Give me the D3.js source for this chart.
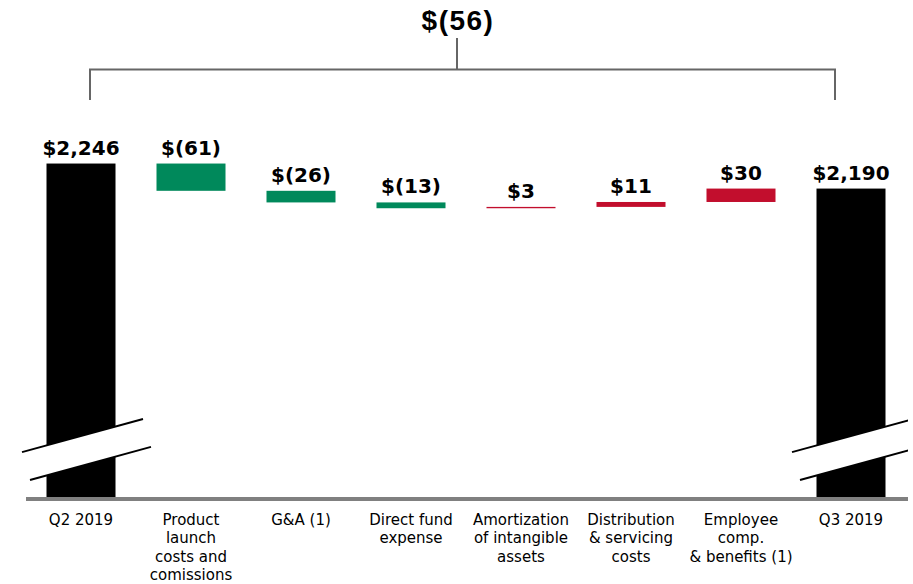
<!DOCTYPE html>
<html>
<head>
<meta charset="utf-8">
<script src="https://cdn.jsdelivr.net/npm/d3@7"></script>
<style>
  html, body { margin: 0; padding: 0; background: #fff; }
  svg { display: block; }
</style>
</head>
<body>
<div id="chart"></div>
<script>
// data
const categoryLines = [
  ["Q2 2019"],
  ["Product", "launch", "costs and", "comissions"],
  ["G&A (1)"],
  ["Direct fund", "expense"],
  ["Amortization", "of intangible", "assets"],
  ["Distribution", "& servicing", "costs"],
  ["Employee", "comp.", "& benefits (1)"],
  ["Q3 2019"]
];
const values = [2246, -61, -26, -13, 3, 11, 30, 2190];
const barTypes = ["total", "delta", "delta", "delta", "delta", "delta", "delta", "total"];
const valueLabels = ["$2,246", "$(61)", "$(26)", "$(13)", "$3", "$11", "$30", "$2,190"];
const changeLabel = "$(56)";
const axisStart = 1500; // broken axis starts here

const width = 913, height = 584;
const baseY = 497;

const svg = d3.select("#chart").append("svg")
    .attr("width", width)
    .attr("height", height);

// running totals for the waterfall
let running = 0;
const bars = values.map(function(v, i) {
    let lo, hi;
    if (barTypes[i] == "total") {
        lo = axisStart; hi = v; running = v;
    } else {
        lo = running; hi = running + v; running = hi;
    }
    return { i: i, v: v, from: lo, to: hi, type: barTypes[i] };
});

const xScale = d3.scaleBand()
    .domain(d3.range(values.length))
    .range([26, 906])
    .paddingInner(0.3727)
    .paddingOuter(0.18636);

const yScale = d3.scaleLinear()
    .domain([axisStart, 2300])
    .range([baseY, baseY - 800 * 0.447]);

function barColor(d) {
    if (d.type == "total") return "#000000";
    return d.v < 0 ? "#00895b" : "#c20e2d";
}

// bars
svg.selectAll(".bar")
    .data(bars)
    .enter()
    .append("rect")
    .attr("class", "bar")
    .attr("x", d => xScale(d.i))
    .attr("width", xScale.bandwidth())
    .attr("y", d => yScale(Math.max(d.from, d.to)))
    .attr("height", d => Math.abs(yScale(d.from) - yScale(d.to)))
    .attr("fill", barColor);

// axis break marks on the two total bars
const slope = 0.273;
const clip = svg.append("clipPath").attr("id", "clip")
    .append("rect").attr("x", 0).attr("y", 0).attr("width", 908).attr("height", height);
const breaks = svg.append("g").attr("clip-path", "url(#clip)");
bars.filter(d => d.type == "total").forEach(function(d) {
    const cx = xScale(d.i) + xScale.bandwidth() / 2;
    const yU = baseY - 61, yL = baseY - 31;
    const up = [[cx - 59, yU + 59 * slope], [cx + 62, yU - 62 * slope]];
    const lo = [[cx - 51, yL + 51 * slope], [cx + 70, yL - 70 * slope]];
    breaks.append("polygon")
        .attr("points", [up[0], up[1], lo[1], lo[0]].map(p => p.join(",")).join(" "))
        .attr("fill", "#fff");
    [up, lo].forEach(function(seg) {
        breaks.append("line")
            .attr("x1", seg[0][0]).attr("y1", seg[0][1])
            .attr("x2", seg[1][0]).attr("y2", seg[1][1])
            .attr("stroke", "#000")
            .attr("stroke-width", 2);
    });
});

// baseline
svg.append("line")
    .attr("x1", 26).attr("x2", 908)
    .attr("y1", baseY + 2).attr("y2", baseY + 2)
    .attr("stroke", "#808080")
    .attr("stroke-width", 4);

// value labels
svg.selectAll(".vlabel")
    .data(bars)
    .enter()
    .append("text")
    .attr("class", "vlabel")
    .attr("x", d => xScale(d.i) + xScale.bandwidth() / 2)
    .attr("y", d => yScale(Math.max(d.from, d.to)) - 9)
    .attr("text-anchor", "middle")
    .style("font", "bold 20px 'DejaVu Sans'")
    .attr("fill", "#000")
    .text(d => valueLabels[d.i]);

// category labels
const cats = svg.selectAll(".cat")
    .data(categoryLines)
    .enter()
    .append("text")
    .attr("class", "cat")
    .attr("text-anchor", "middle")
    .style("font", "15px 'DejaVu Sans'")
    .attr("fill", "#000");
cats.each(function(lines, i) {
    const cx = xScale(i) + xScale.bandwidth() / 2;
    d3.select(this).selectAll("tspan")
        .data(lines)
        .enter()
        .append("tspan")
        .attr("x", cx)
        .attr("y", (l, j) => 525 + j * 18.3)
        .text(l => l);
});

// bracket with the total change
const bx0 = 90, bx1 = 835, bmid = 457, by = 69.5;
const bracket = svg.append("g")
    .attr("stroke", "#666")
    .attr("stroke-width", 2)
    .attr("fill", "none");
bracket.append("path")
    .attr("d", "M" + bx0 + ",100 V" + by + " H" + bx1 + " V100");
bracket.append("line")
    .attr("x1", bmid).attr("x2", bmid)
    .attr("y1", 38).attr("y2", by);

svg.append("text")
    .attr("x", bmid + 1)
    .attr("y", 30)
    .attr("text-anchor", "middle")
    .style("font", "bold 28px 'Liberation Sans'")
    .style("letter-spacing", "1.5px")
    .attr("fill", "#000")
    .text(changeLabel);
</script>
</body>
</html>
